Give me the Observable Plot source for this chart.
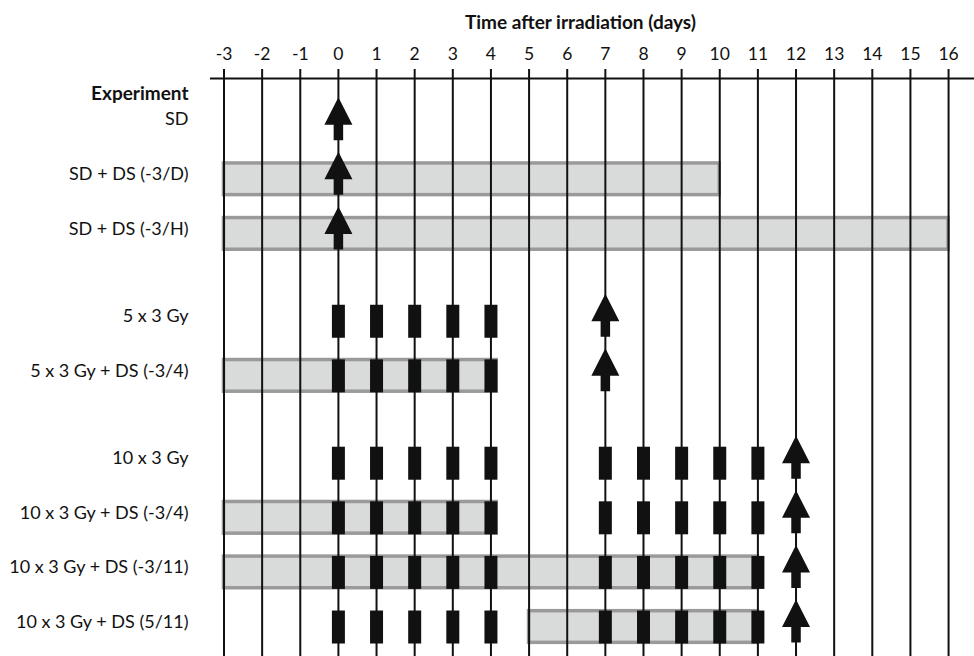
<!DOCTYPE html>
<html>
<head>
<meta charset="utf-8">
<script src="https://cdn.jsdelivr.net/npm/d3@7"></script>
<script src="https://cdn.jsdelivr.net/npm/@observablehq/plot@0.6"></script>
<style>
  html, body { margin: 0; padding: 0; background: #fff; }
  #chart svg { display: block; }
</style>
</head>
<body>
<div id="chart"></div>
<script>
// ---- data ----
const days = [-3, -2, -1, 0, 1, 2, 3, 4, 5, 6, 7, 8, 9, 10, 11, 12, 13, 14, 15, 16];
const experiments = [
  "SD",
  "SD + DS (-3/D)",
  "SD + DS (-3/H)",
  "5 x 3 Gy",
  "5 x 3 Gy + DS (-3/4)",
  "10 x 3 Gy",
  "10 x 3 Gy + DS (-3/4)",
  "10 x 3 Gy + DS (-3/11)",
  "10 x 3 Gy + DS (5/11)"
];
const groups = [1, 1, 1, 2, 2, 3, 3, 3, 3];
const dsStart = [null, -3, -3, null, -3, null, -3, -3, 5];
const dsEnd = [null, 10, 16, null, 4.15, null, 4.15, 11, 11];
const fractionDays = [
  [], [], [],
  [0, 1, 2, 3, 4],
  [0, 1, 2, 3, 4],
  [0, 1, 2, 3, 4, 7, 8, 9, 10, 11],
  [0, 1, 2, 3, 4, 7, 8, 9, 10, 11],
  [0, 1, 2, 3, 4, 7, 8, 9, 10, 11],
  [0, 1, 2, 3, 4, 7, 8, 9, 10, 11]
];
const arrowDay = [0, 0, 0, 7, 7, 12, 12, 12, 12];

// ---- layout ----
const GROUP_GAP = 0.6;
const BAR_HALF = 0.29;
const Y_DOMAIN = [-0.846, 9.74];
const X_DOMAIN = [-3.354, 16.68];

const rows = experiments.map((name, i) => ({
  name,
  pos: i + GROUP_GAP * (groups[i] - 1),
  start: dsStart[i],
  end: dsEnd[i],
  doses: fractionDays[i],
  arrow: arrowDay[i]
}));
const dsBars = rows.filter(r => r.start != null);
const doses = rows.flatMap(r => r.doses.map(d => ({day: d, pos: r.pos})));
const arrows = rows.map(r => ({day: r.arrow, pos: r.pos}));

const doseSymbol = {
  draw(ctx) { ctx.rect(-6.5, -16.5, 13, 33); }
};
const arrowSymbol = {
  draw(ctx) {
    ctx.moveTo(0, -27.5);
    ctx.lineTo(14, 0);
    ctx.lineTo(4.75, 0);
    ctx.lineTo(4.75, 15.5);
    ctx.lineTo(-4.75, 15.5);
    ctx.lineTo(-4.75, 0);
    ctx.lineTo(-14, 0);
    ctx.closePath();
  }
};

const chart = Plot.plot({
  width: 974,
  height: 656,
  marginLeft: 210,
  marginRight: 0,
  marginTop: 78,
  marginBottom: 0,
  style: {fontFamily: "Lato, sans-serif", fontSize: "16px", color: "#111", background: "#fff"},
  x: {domain: X_DOMAIN, axis: null},
  y: {domain: Y_DOMAIN, reverse: true, axis: null},
  marks: [
    Plot.rect(dsBars, {
      x1: "start", x2: "end",
      y1: d => d.pos - BAR_HALF, y2: d => d.pos + BAR_HALF,
      fill: "#d9dbda", stroke: "#9a9a9a", strokeWidth: 3.5
    }),
    Plot.ruleX(days, {stroke: "#111", strokeWidth: 2, insetTop: -9}),
    Plot.ruleY([Y_DOMAIN[0]], {stroke: "#111", strokeWidth: 2}),
    Plot.dot(doses, {x: "day", y: "pos", symbol: doseSymbol, r: 5, fill: "#111", stroke: "none"}),
    Plot.dot(arrows, {x: "day", y: "pos", symbol: arrowSymbol, r: 5, fill: "#111", stroke: "none"}),
    Plot.text(days, {x: d => d, text: d => String(d), frameAnchor: "top", dy: -31, fontSize: 17.5, fill: "#111"}),
    Plot.text(rows, {y: "pos", text: "name", frameAnchor: "left", textAnchor: "end", dx: -22, dy: -5, fontSize: 18, fill: "#111"}),
    Plot.text(["Experiment"], {frameAnchor: "top-left", textAnchor: "end", dx: -22, dy: 8, fontSize: 19, fontWeight: "bold", fill: "#111"}),
    Plot.text(["Time after irradiation (days)"], {frameAnchor: "top", dx: -12, dy: -63, fontSize: 19, fontWeight: "bold", fill: "#111"})
  ]
});
document.getElementById("chart").appendChild(chart);
</script>
</body>
</html>
